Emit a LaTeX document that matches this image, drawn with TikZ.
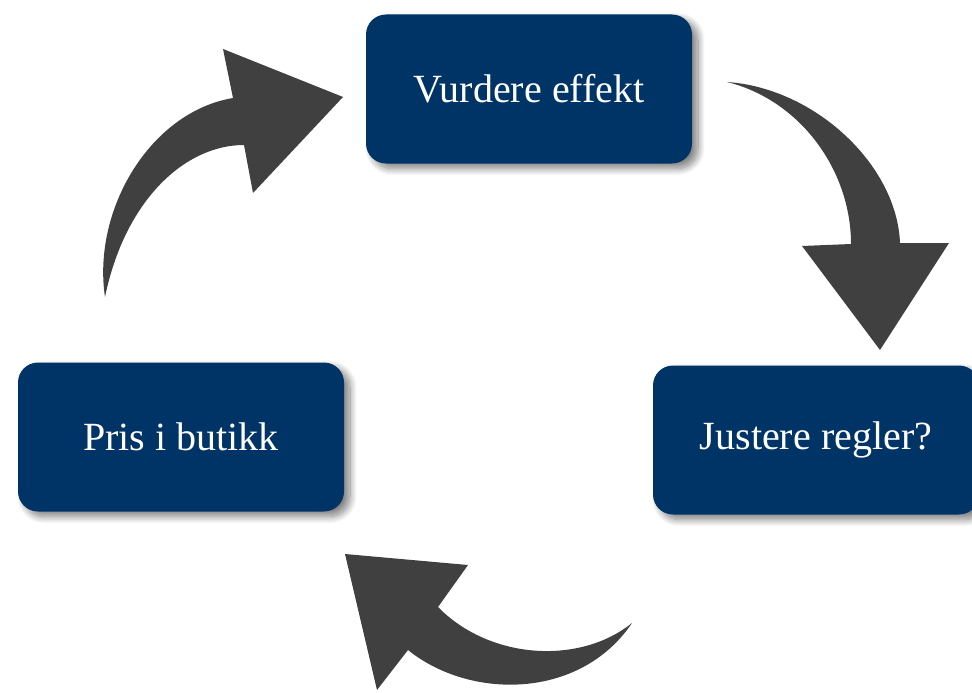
\documentclass[tikz,border=0pt]{standalone}
\usepackage{fontspec}
\setmainfont{Liberation Serif}
\usetikzlibrary{shadows.blur}
\definecolor{boxblue}{RGB}{0,52,102}
\definecolor{arrowgrey}{RGB}{64,64,64}
\tikzset{
  stepbox/.style={rectangle, rounded corners=20pt, fill=boxblue, text=white,
    minimum width=326pt, minimum height=149pt, inner sep=0pt,
    font=\fontsize{40}{46}\selectfont,
    blur shadow={shadow xshift=6pt, shadow yshift=-5pt, shadow blur steps=12, shadow opacity=50, shadow blur radius=7pt}},
  blockarrow/.style={fill=arrowgrey, draw=none}
}
\begin{document}
\begin{tikzpicture}[x=1pt,y=-1pt]
\useasboundingbox (0,0) rectangle (972,693);
% boxes
\node[stepbox] (vurdere) at (529,89) {Vurdere effekt};
\node[stepbox] (pris) at (181,437) {Pris i butikk};
\node[stepbox] (justere) at (816,440) {Justere regler?};
% arrow top-left (Pris -> Vurdere)
\fill[blockarrow] (105,297) .. controls (92,210) and (150,112) .. (233,98)
  -- (223,49) -- (343,97) -- (253,193) -- (244,145)
  .. controls (185,145) and (125,200) .. (105,297) -- cycle;
% arrow top-right (Vurdere -> Justere)
\fill[blockarrow] (727,82) .. controls (815,88) and (897,165) .. (900,243)
  -- (949,243) -- (880,350) -- (802,246) -- (851,244)
  .. controls (851,170) and (800,100) .. (727,82) -- cycle;
% arrow bottom (Justere -> Pris)
\fill[blockarrow] (632,623) .. controls (580,700) and (470,700) .. (408,650)
  -- (377,690) -- (345,554) -- (468,565) -- (438,607)
  .. controls (490,660) and (580,665) .. (632,623) -- cycle;
\end{tikzpicture}
\end{document}
